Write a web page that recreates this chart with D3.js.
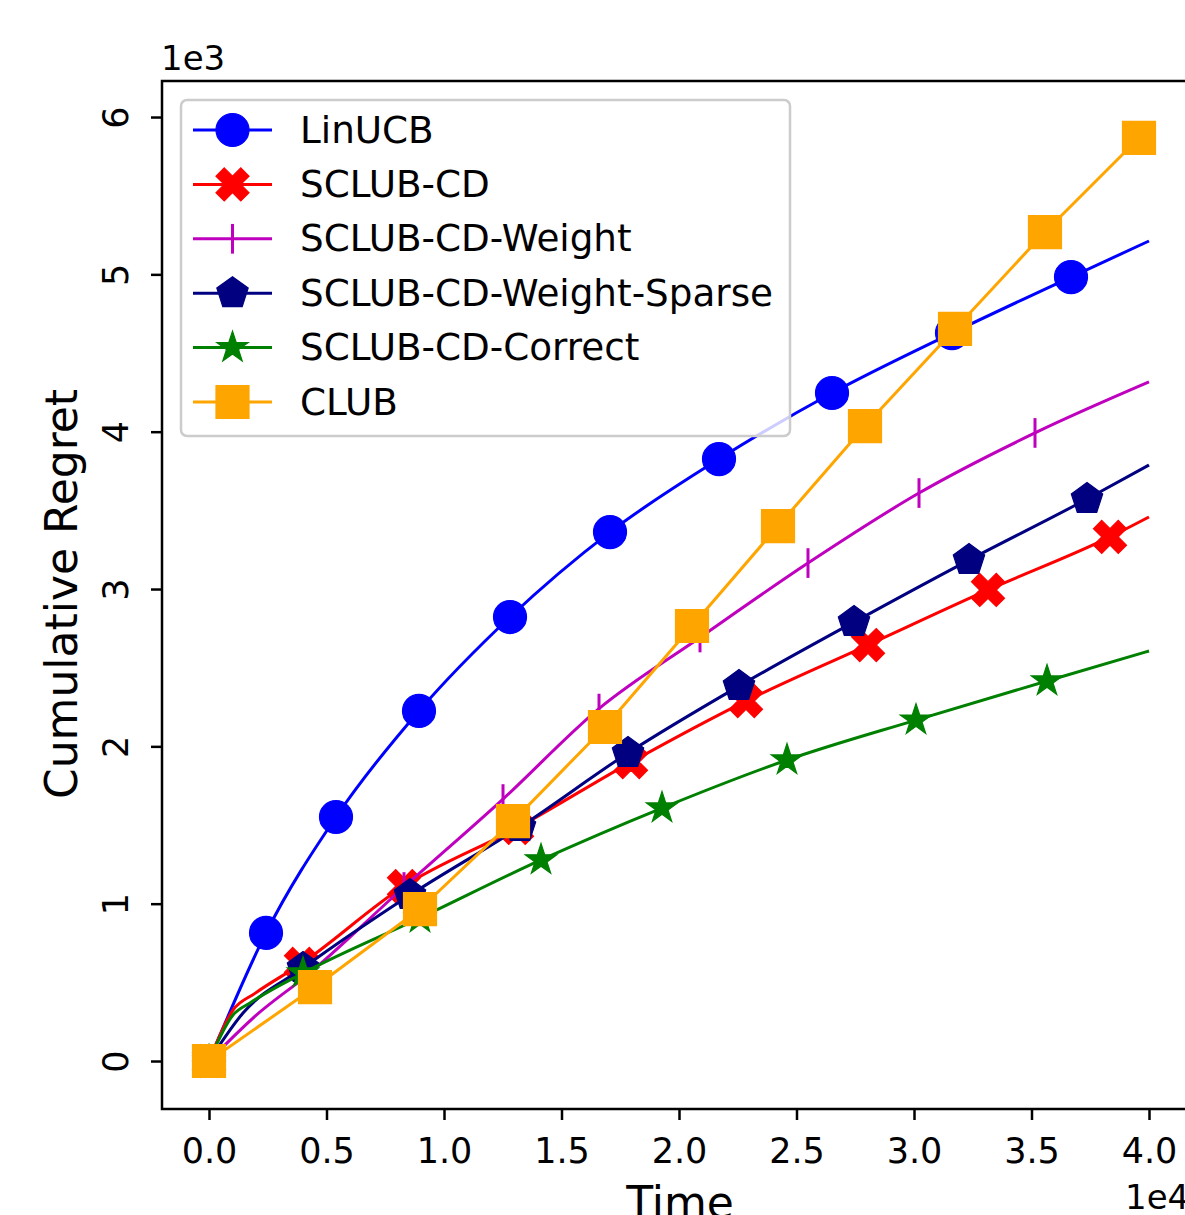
<!DOCTYPE html>
<html>
<head>
<meta charset="utf-8">
<script src="https://cdn.jsdelivr.net/npm/d3@7"></script>
<style>
  body { margin: 0; background: #fff; }
  text { font-family: "DejaVu Sans", sans-serif; fill: #000; }
</style>
</head>
<body>
<script>
// time steps and cumulative regret
const linucbTime = [0, 2426, 5404, 8936, 12809, 17064, 21702, 26511, 31617, 36681, 40000];
const linucbRegret = [0, 814, 1551, 2225, 2822, 3362, 3826, 4246, 4627, 4983, 5212];
const linucbMarks = [0, 1, 2, 3, 4, 5, 6, 7, 8, 9];

const cdTime = [0, 1021, 1957, 3915, 8298, 13106, 17957, 22851, 28043, 33149, 38340, 40000];
const cdRegret = [0, 324, 430, 617, 1112, 1481, 1900, 2288, 2644, 2994, 3331, 3458];
const cdMarks = [0, 3, 4, 5, 6, 7, 8, 9, 10];

const weightTime = [0, 2000, 4128, 8298, 12511, 16596, 20894, 25489, 30213, 35149, 40000];
const weightRegret = [0, 290, 540, 1106, 1665, 2240, 2692, 3165, 3610, 3992, 4316];
const weightMarks = [0, 2, 3, 4, 5, 6, 7, 8, 9];

const sparseTime = [0, 1447, 4000, 8553, 13234, 17830, 22553, 27447, 32340, 37362, 40000];
const sparseRegret = [0, 305, 591, 1055, 1487, 1958, 2383, 2790, 3184, 3572, 3788];
const sparseMarks = [0, 2, 3, 4, 5, 6, 7, 8, 9];

const correctTime = [0, 1021, 1745, 4000, 8979, 14128, 19277, 24596, 30085, 35660, 40000];
const correctRegret = [0, 292, 369, 559, 909, 1278, 1608, 1913, 2167, 2415, 2606];
const correctMarks = [0, 3, 4, 5, 6, 7, 8, 9];

const clubTime = [0, 4511, 8979, 12936, 16851, 20553, 24213, 27915, 31745, 35574, 39574];
const clubRegret = [0, 470, 966, 1525, 2123, 2765, 3400, 4036, 4653, 5269, 5867];
const clubMarks = [0, 1, 2, 3, 4, 5, 6, 7, 8, 9, 10];

const labels = ["LinUCB", "SCLUB-CD", "SCLUB-CD-Weight", "SCLUB-CD-Weight-Sparse", "SCLUB-CD-Correct", "CLUB"];
const xTicks = [0, 5000, 10000, 15000, 20000, 25000, 30000, 35000, 40000];
const yTicks = [0, 1000, 2000, 3000, 4000, 5000, 6000];

const w = 1185;
const h = 1215;

const series = [
  {name: labels[0], t: linucbTime, v: linucbRegret, m: linucbMarks, color: "#0000ff", marker: "circle", smooth: true},
  {name: labels[1], t: cdTime, v: cdRegret, m: cdMarks, color: "#ff0000", marker: "xfilled", smooth: true},
  {name: labels[2], t: weightTime, v: weightRegret, m: weightMarks, color: "#bf00bf", marker: "vline", smooth: true},
  {name: labels[3], t: sparseTime, v: sparseRegret, m: sparseMarks, color: "#000080", marker: "pentagon", smooth: true},
  {name: labels[4], t: correctTime, v: correctRegret, m: correctMarks, color: "#008000", marker: "star", smooth: true},
  {name: labels[5], t: clubTime, v: clubRegret, m: clubMarks, color: "#ffa500", marker: "square", smooth: false}
];

const svg = d3.select("body")
              .append("svg")
              .attr("width", w)
              .attr("height", h);

const x = d3.scaleLinear().domain([-2000, 42000]).range([162, 1196]);
const y = d3.scaleLinear().domain([-305, 6229]).range([1109, 81]);

// marker shapes, sized like the picture (about 33px across)
const ms = 33;
function polygon(n, R, rot) {
  const pts = [];
  for (let i = 0; i < n; i++) {
    const a = rot + i * 2 * Math.PI / n;
    pts.push([R * Math.sin(a), -R * Math.cos(a)]);
  }
  return "M" + pts.map(p => p.join(",")).join("L") + "Z";
}
function star(R, r) {
  const pts = [];
  for (let i = 0; i < 10; i++) {
    const a = i * Math.PI / 5;
    const rr = i % 2 === 0 ? R : r;
    pts.push([rr * Math.sin(a), -rr * Math.cos(a)]);
  }
  return "M" + pts.map(p => p.join(",")).join("L") + "Z";
}
const xf = [[-1,-2],[0,-1],[1,-2],[2,-1],[1,0],[2,1],[1,2],[0,1],[-1,2],[-2,1],[-1,0],[-2,-1]];
const shapes = {
  circle: "M" + (ms/2) + ",0A" + (ms/2) + "," + (ms/2) + " 0 1,1 " + (-ms/2) + ",0A" + (ms/2) + "," + (ms/2) + " 0 1,1 " + (ms/2) + ",0Z",
  square: "M" + (-ms/2) + "," + (-ms/2) + "h" + ms + "v" + ms + "h" + (-ms) + "Z",
  xfilled: "M" + xf.map(p => [p[0] * ms / 4, p[1] * ms / 4].join(",")).join("L") + "Z",
  pentagon: polygon(5, ms / 2, 0),
  star: star(ms / 2, ms / 2 * 0.381966),
  vline: "M0," + (-ms * 0.45) + "V" + (ms * 0.45)
};

function drawMarker(sel, s) {
  if (s.marker === "vline") {
    sel.attr("d", shapes.vline).attr("fill", "none")
       .attr("stroke", s.color).attr("stroke-width", 3);
  } else {
    sel.attr("d", shapes[s.marker]).attr("fill", s.color)
       .attr("stroke", s.color).attr("stroke-width", 1.2)
       .attr("stroke-linejoin", "miter");
  }
}

// lines + markers, in legend order
series.forEach(s => {
  const pts = s.t.map((t, i) => [t, s.v[i]]);
  const line = d3.line()
                 .x(d => x(d[0]))
                 .y(d => y(d[1]))
                 .curve(s.smooth ? d3.curveMonotoneX : d3.curveLinear);
  const g = svg.append("g");
  g.append("path")
   .attr("d", line(pts))
   .attr("fill", "none")
   .attr("stroke", s.color)
   .attr("stroke-width", 3)
   .attr("stroke-linejoin", "round");
  g.selectAll("path.mk")
   .data(s.m.map(i => pts[i]))
   .enter()
   .append("path")
   .attr("class", "mk")
   .attr("transform", d => "translate(" + x(d[0]) + "," + y(d[1]) + ")")
   .call(sel => drawMarker(sel, s));
});

// axes
const xAxis = d3.axisBottom(x).tickValues(xTicks).tickSize(11).tickSizeOuter(0)
                .tickFormat(d => (d / 1e4).toFixed(1));
const gx = svg.append("g").attr("transform", "translate(0,1109)").call(xAxis);
gx.select(".domain").remove();
gx.selectAll("line").attr("stroke", "#000").attr("stroke-width", 2.5);
gx.selectAll("text").attr("y", 54).attr("dy", 0)
  .style("font-size", "35px").style("font-family", "DejaVu Sans");

const yAxis = d3.axisLeft(y).tickValues(yTicks).tickSize(11).tickSizeOuter(0)
                .tickFormat(d => d / 1000);
const gy = svg.append("g").attr("transform", "translate(162,0)").call(yAxis);
gy.select(".domain").remove();
gy.selectAll("line").attr("stroke", "#000").attr("stroke-width", 2.5);
gy.selectAll("text")
  .attr("x", 0).attr("y", 0).attr("dy", 0)
  .attr("text-anchor", "middle")
  .attr("transform", "translate(-34,0) rotate(-90)")
  .style("font-size", "35px").style("font-family", "DejaVu Sans");

// frame (right edge falls outside the page)
svg.append("rect")
   .attr("x", 162).attr("y", 81)
   .attr("width", 1196 - 162).attr("height", 1109 - 81)
   .attr("fill", "none").attr("stroke", "#000").attr("stroke-width", 2.5);

// offset texts and labels (cut by the page edge, as in the original)
svg.append("text").text("1e3").attr("x", 161).attr("y", 70).style("font-size", "34px");
svg.append("text").text("1e4").attr("x", 1125).attr("y", 1209).style("font-size", "34px");
svg.append("text").text("Time")
   .attr("x", 680).attr("y", 1218).attr("text-anchor", "middle").style("font-size", "44px");
svg.append("text").text("Cumulative Regret")
   .attr("text-anchor", "middle")
   .attr("transform", "translate(77,594) rotate(-90)")
   .style("font-size", "44px");

// legend
const legend = svg.append("g").attr("id", "legend");
legend.append("rect")
      .attr("x", 181).attr("y", 100).attr("width", 609).attr("height", 336)
      .attr("rx", 6)
      .attr("fill", "#fff").attr("fill-opacity", 0.8)
      .attr("stroke", "#cccccc").attr("stroke-width", 2.5);
const rows = legend.selectAll("g.row")
      .data(series)
      .enter()
      .append("g")
      .attr("class", "row")
      .attr("transform", (d, i) => "translate(0," + (130 + i * 54.4) + ")");
rows.append("line")
    .attr("x1", 193).attr("x2", 272)
    .attr("stroke", d => d.color).attr("stroke-width", 3);
rows.append("path")
    .attr("transform", "translate(232.5,0)")
    .each(function(d) { drawMarker(d3.select(this), d); });
rows.append("text")
    .text(d => d.name)
    .attr("x", 300).attr("y", 12.5)
    .style("font-size", "37.3px");
</script>
</body>
</html>
